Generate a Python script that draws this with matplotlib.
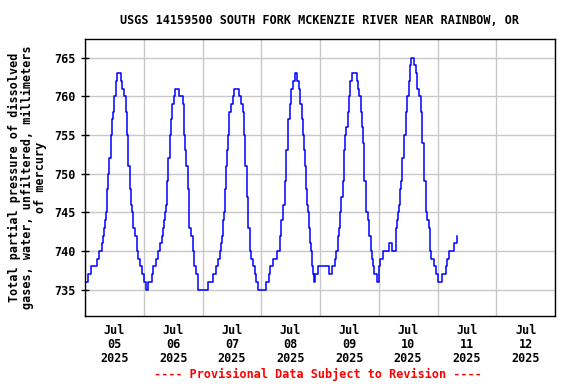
import matplotlib
matplotlib.use("Agg")
import matplotlib.pyplot as plt
import matplotlib.dates as mdates
import pandas as pd

title = "USGS 14159500 SOUTH FORK MCKENZIE RIVER NEAR RAINBOW, OR"
ylabel = ("Total partial pressure of dissolved\n"
          "gases, water, unfiltered, millimeters\n"
          "of mercury")
footer = "---- Provisional Data Subject to Revision ----"
start = "2025-07-05"

# hours since Jul 05 00:00
hours = [
    0, 1.4, 2.5, 4.8, 5.9, 6.8, 7.5, 7.9, 8.2, 8.5,
    8.8, 9.1, 9.5, 10.0, 10.5, 10.9, 11.5, 12.0, 12.5, 13.0,
    14.7, 15.2, 16.0, 16.6, 17.0, 17.4, 17.7, 18.4, 18.8, 19.1,
    19.8, 20.4, 21.1, 21.8, 22.5, 23.4, 24.3, 24.8, 25.9, 27.3,
    27.9, 28.9, 29.7, 30.7, 31.4, 32.0, 32.4, 32.8, 33.0, 33.5,
    34.1, 34.6, 35.0, 35.6, 36.2, 36.8, 38.6, 39.9, 40.3, 40.6,
    41.0, 41.3, 41.9, 42.3, 42.6, 43.3, 44.0, 44.7, 45.3, 46.0,
    46.3, 50.2, 52.2, 53.6, 54.3, 55.2, 55.6, 56.0, 56.4, 56.7,
    57.1, 57.6, 58.0, 58.3, 59.0, 59.7, 60.4, 60.9, 63.1, 63.8,
    64.5, 64.9, 65.4, 66.0, 66.5, 67.2, 67.9, 68.6, 69.3, 69.9,
    70.6, 73.8, 75.0, 75.5, 77.0, 78.5, 79.5, 80.2, 80.8, 81.5,
    82.2, 82.9, 83.6, 84.3, 84.9, 85.6, 86.4, 87.3, 88.0, 88.6,
    89.0, 89.4, 89.7, 90.4, 90.8, 91.1, 91.7, 92.1, 92.4, 92.8,
    93.1, 93.6, 94.1, 95.0, 99.8, 100.9, 102.1, 102.5, 103.2, 103.9,
    104.3, 104.6, 105.2, 105.9, 106.3, 106.6, 107.3, 108.0, 108.4, 109.1,
    111.0, 111.6, 112.1, 112.7, 113.1, 113.4, 114.1, 114.8, 115.5, 116.1,
    116.8, 117.2, 117.5, 118.2, 119.4, 119.9, 120.2, 120.5, 121.6, 124.0,
    125.3, 127.0, 127.4, 127.7, 128.3, 128.7, 129.0, 129.6, 130.3, 131.0,
    131.7, 132.4, 132.8, 133.3, 134.4, 135.1, 135.8, 136.5, 137.1, 137.8,
    138.5, 139.2, 139.9, 140.6, 141.0, 141.5, 142.6, 143.3, 144.0, 145.7,
    147.4, 148.0, 148.7, 150.8, 151.9,
]
pressure = [
    736, 737, 738, 739, 740, 741, 742, 743, 744, 745,
    746, 748, 750, 752, 755, 757, 758, 760, 762, 763,
    762, 761, 760, 758, 755, 753, 751, 748, 746, 745,
    743, 742, 740, 739, 738, 737, 736, 735, 736, 737,
    738, 739, 740, 741, 742, 743, 744, 745, 746, 749,
    752, 755, 757, 759, 760, 761, 760, 759, 757, 755,
    753, 751, 748, 746, 743, 742, 740, 738, 737, 736,
    735, 736, 737, 738, 739, 740, 741, 742, 744, 745,
    748, 751, 753, 755, 758, 759, 760, 761, 760, 759,
    758, 755, 751, 747, 743, 740, 739, 738, 737, 736,
    735, 736, 737, 738, 739, 740, 742, 744, 746, 749,
    753, 757, 759, 761, 762, 763, 762, 761, 759, 757,
    755, 753, 751, 748, 746, 745, 743, 741, 740, 738,
    737, 736, 737, 738, 737, 738, 739, 740, 742, 743,
    745, 747, 749, 753, 755, 756, 758, 760, 762, 763,
    762, 761, 760, 758, 756, 754, 749, 745, 744, 742,
    740, 739, 738, 737, 736, 737, 738, 739, 740, 741,
    740, 743, 744, 745, 746, 748, 749, 752, 755, 758,
    760, 762, 764, 765, 764, 763, 761, 760, 758, 754,
    749, 745, 744, 743, 740, 739, 738, 737, 736, 737,
    738, 739, 740, 741, 742,
]

yticks = [735, 740, 745, 750, 755, 760, 765]

times = pd.Timestamp(start) + pd.to_timedelta(hours, unit="h")

font = "DejaVu Sans Mono"
fig = plt.figure(figsize=(5.76, 3.84), dpi=100)
ax = fig.add_axes([85 / 576, 68 / 384, 470 / 576, 277 / 384])

ax.step(times, pressure, where="post", color="#0000ff", lw=1.1)

ax.set_xlim(pd.Timestamp(start), pd.Timestamp("2025-07-13"))
ax.set_ylim(731.6, 767.4)
ax.set_yticks(yticks)

ax.xaxis.set_major_locator(mdates.HourLocator(byhour=12))
ax.xaxis.set_major_formatter(mdates.DateFormatter("%b\n%d\n%Y"))
ax.xaxis.set_minor_locator(mdates.DayLocator())
ax.grid(which="minor", axis="x", color="#c8c8c8", lw=1.0)
ax.grid(which="major", axis="y", color="#c8c8c8", lw=1.0)
ax.tick_params(axis="x", which="both", length=0, pad=6)
ax.tick_params(axis="y", direction="inout", length=6, width=1, pad=4)

for lab in ax.get_xticklabels() + ax.get_yticklabels():
    lab.set_fontfamily(font)
    lab.set_fontweight("bold")
    lab.set_fontsize(8.5)
for lab in ax.get_xticklabels():
    lab.set_linespacing(1.1)

for s in ax.spines.values():
    s.set_linewidth(1.0)
    s.set_color("black")

ax.set_ylabel(ylabel, fontfamily=font, fontweight="bold", fontsize=8.5,
              linespacing=1.0, labelpad=5)
fig.text(320 / 576, 1 - 20 / 384, title, ha="center", va="center",
         fontfamily=font, fontweight="bold", fontsize=8.5)
fig.text(318 / 576, 1 - 374 / 384, footer, ha="center", va="center",
         fontfamily=font, fontweight="bold", fontsize=8.5, color="#ff0000")

fig.savefig("out.png", dpi=100)
